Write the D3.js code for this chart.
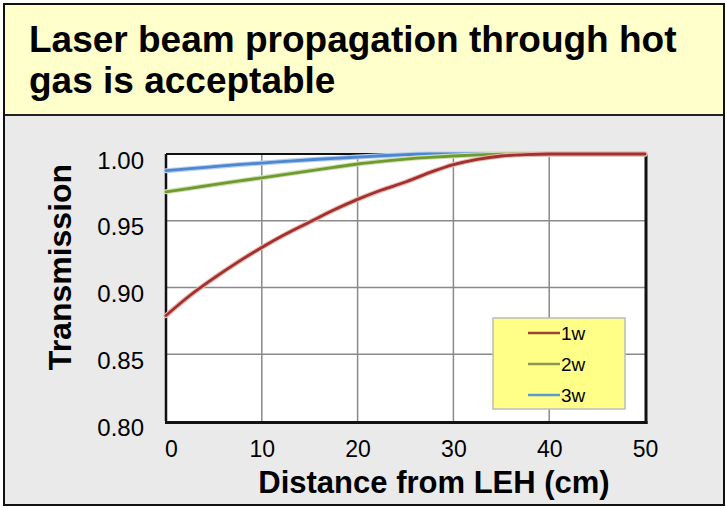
<!DOCTYPE html>
<html><head><meta charset="utf-8">
<script src="https://cdn.jsdelivr.net/npm/d3@7"></script>
<style>body{margin:0;background:#fff}svg{display:block}text{font-family:Arial,"Liberation Sans",sans-serif}</style>
</head><body>
<script>
const titleLines = ["Laser beam propagation through hot", "gas is acceptable"];
const distance = [0,2.5,5,7.5,10,12.5,15,17.5,20,22.5,25,27.5,30,32.5,35,37.5,40,45,50];
const trans1w = [0.879,0.894,0.907,0.919,0.930,0.940,0.949,0.958,0.966,0.973,0.979,0.986,0.992,0.996,0.9985,0.9995,1.0,1.0,1.0];
const trans2w = [0.9717,0.9743,0.977,0.9796,0.9822,0.9848,0.9874,0.990,0.9925,0.9945,0.9962,0.9975,0.9985,0.9993,0.9998,1.0,1.0,1.0,1.0];
const trans3w = [0.9875,0.989,0.9905,0.992,0.9932,0.9945,0.9957,0.9967,0.9977,0.9987,0.9995,1.0,1.0,1.0,1.0,1.0,1.0,1.0,1.0];
const seriesNames = ["1w","2w","3w"];
const xTicks = [0,10,20,30,40,50];
const yTicks = [0.80,0.85,0.90,0.95,1.00];
const xLabel = "Distance from LEH (cm)";
const yLabel = "Transmission";

const W = 726, H = 507;
const svg = d3.select("body").append("svg").attr("width", W).attr("height", H);

// background panels
svg.append("rect").attr("x",4).attr("y",4).attr("width",720).attr("height",501).attr("fill","#EAEAEA");
svg.append("rect").attr("x",4).attr("y",4).attr("width",720).attr("height",111).attr("fill","#FFFFCC");
svg.append("line").attr("x1",4).attr("x2",724).attr("y1",115).attr("y2",115).attr("stroke","#222").attr("stroke-width",2);
svg.append("rect").attr("x",4).attr("y",4).attr("width",720).attr("height",501).attr("fill","none").attr("stroke","#111").attr("stroke-width",2);

// title
svg.append("g").selectAll("text").data(titleLines).join("text")
  .attr("x",29).attr("y",(d,i)=>52+i*41)
  .attr("font-size",37).attr("font-weight","bold").attr("fill","#000")
  .text(d=>d);

const m = {l:166, r:645, t:154, b:421};
const x = d3.scaleLinear().domain([0,50]).range([m.l,m.r]);
const y = d3.scaleLinear().domain([0.80,1.00]).range([m.b,m.t]);

// plot area
svg.append("rect").attr("x",m.l).attr("y",m.t).attr("width",m.r-m.l).attr("height",m.b-m.t).attr("fill","#fff");

// grid
const grid = svg.append("g");
grid.selectAll("line.v").data(xTicks.slice(1,-1)).join("line")
  .attr("x1",d=>x(d)).attr("x2",d=>x(d)).attr("y1",m.t).attr("y2",m.b)
  .attr("stroke","#8a8a8a").attr("stroke-width",1.5);
grid.selectAll("line.h").data(yTicks.slice(1,-1)).join("line")
  .attr("y1",d=>y(d)).attr("y2",d=>y(d)).attr("x1",m.l).attr("x2",m.r)
  .attr("stroke","#8a8a8a").attr("stroke-width",1.5);

// frame
svg.append("line").attr("x1",m.l).attr("x2",m.l).attr("y1",m.t).attr("y2",m.b).attr("stroke","#111").attr("stroke-width",2.5);
svg.append("line").attr("x1",m.l).attr("x2",m.r).attr("y1",m.t).attr("y2",m.t).attr("stroke","#111").attr("stroke-width",2);
svg.append("line").attr("x1",m.l-1).attr("x2",m.r+2.5).attr("y1",m.b+1.5).attr("y2",m.b+1.5).attr("stroke","#111").attr("stroke-width",3);
svg.append("line").attr("x1",m.r+1).attr("x2",m.r+1).attr("y1",m.t).attr("y2",m.b+3).attr("stroke","#111").attr("stroke-width",3);

// axes labels via d3 axes
const xAxis = d3.axisBottom(x).tickValues(xTicks).tickSize(0).tickPadding(0).tickFormat(d3.format("d"));
const gx = svg.append("g").attr("transform",`translate(0,${m.b+20})`).call(xAxis);
gx.select(".domain").remove();
gx.selectAll("text").attr("font-size",23).attr("fill","#000").attr("font-family","Arial, 'Liberation Sans', sans-serif")
  .attr("dy","0.71em").attr("dx",d=>d===0?5:0);

const yAxis = d3.axisLeft(y).tickValues(yTicks).tickSize(0).tickPadding(0).tickFormat(d3.format(".2f"));
const gy = svg.append("g").attr("transform",`translate(${m.l-22},0)`).call(yAxis);
gy.select(".domain").remove();
gy.selectAll("text").attr("font-size",24).attr("fill","#000").attr("font-family","Arial, 'Liberation Sans', sans-serif")
  .attr("dy","14px");

svg.append("text").attr("x",434).attr("y",493).attr("text-anchor","middle")
  .attr("font-size",31).attr("font-weight","bold").text(xLabel);
svg.append("text").attr("transform","translate(71,267) rotate(-90)").attr("text-anchor","middle")
  .attr("font-size",32).attr("font-weight","bold").text(yLabel);

// lines
const colors = ["#A2302E","#6F9A2F","#4D86D1"];
const halo = ["#E8B8B0","#D2E0B8","#B8D0EE"];
const data = [trans1w, trans2w, trans3w];
const line = d3.line().x((d,i)=>x(distance[i])).y(d=>y(d)).curve(d3.curveMonotoneX);
const lg = svg.append("g");
[2,1,0].forEach(k=>{
  lg.append("path").attr("d",line(data[k])).attr("fill","none").attr("stroke",halo[k]).attr("stroke-width",5).attr("stroke-linecap","round");
  lg.append("path").attr("d",line(data[k])).attr("fill","none").attr("stroke",colors[k]).attr("stroke-width",2.8).attr("stroke-linecap","round");
});

// legend
const leg = svg.append("g");
leg.append("rect").attr("x",493).attr("y",318).attr("width",132).attr("height",91)
  .attr("fill","#FFFF88").attr("stroke","#bbb").attr("stroke-width",1.5);
const legColors = ["#A0442A","#8A9A4A","#5B9BD5"];
seriesNames.forEach((n,i)=>{
  const yy = 333 + i*31;
  leg.append("line").attr("x1",528).attr("x2",560).attr("y1",yy).attr("y2",yy).attr("stroke",legColors[i]).attr("stroke-width",2.5);
  leg.append("text").attr("x",561).attr("y",yy).attr("dy","0.36em").attr("font-size",19).attr("fill","#000").text(n);
});
</script>
</body></html>
